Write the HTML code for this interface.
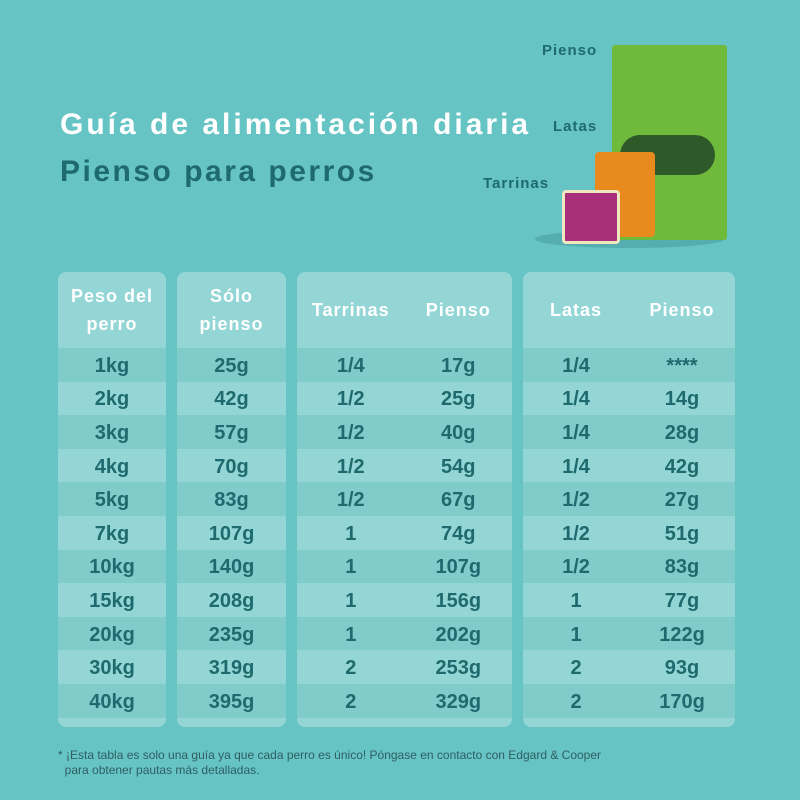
<!DOCTYPE html><html><head><style>
body{margin:0;width:800px;height:800px;background:#66c4c4;position:relative;overflow:hidden;font-family:"Liberation Sans",sans-serif}
.t{position:absolute;font-weight:bold;letter-spacing:1px}
.card{position:absolute;top:272px;height:455px;background:#93d6d5;border-radius:8px;overflow:hidden}
.hd{position:absolute;top:0;left:0;right:0;height:76px;color:#fff;font-weight:bold;font-size:18px;display:flex;align-items:center;justify-content:space-around;text-align:center;line-height:28px;letter-spacing:1px}
.row{position:absolute;left:0;right:0;height:33.6px;display:flex;align-items:center;justify-content:space-around;color:#1e6a6e;font-weight:bold;font-size:20px;padding-top:3px;box-sizing:border-box}
.row.d{background:#80cccb}
.row span{width:50%;text-align:center}
</style></head><body>
<div class="t" style="left:60px;top:108px;font-size:30px;color:#fff;letter-spacing:3px">Guía de alimentación diaria</div>
<div class="t" style="left:60px;top:155px;font-size:30px;color:#1e6a6e;letter-spacing:2.5px">Pienso para perros</div>
<div class="t" style="left:542px;top:42px;font-size:15px;color:#1e6a6e">Pienso</div>
<div class="t" style="left:553px;top:118px;font-size:15px;color:#1e6a6e">Latas</div>
<div class="t" style="left:483px;top:175px;font-size:15px;color:#1e6a6e">Tarrinas</div>
<div style="position:absolute;left:535px;top:230px;width:190px;height:18px;border-radius:50%;background:#54aeb0"></div>
<div style="position:absolute;left:612px;top:45px;width:115px;height:195px;background:#6fba3a;border-radius:3px"></div>
<div style="position:absolute;left:620px;top:135px;width:95px;height:40px;background:#2e5a2a;border-radius:20px"></div>
<div style="position:absolute;left:595px;top:152px;width:60px;height:85px;background:#e98a1f;border-radius:4px"></div>
<div style="position:absolute;left:562px;top:190px;width:52px;height:48px;background:#a8307a;border:3px solid #f0e6c0;border-radius:4px"></div>
<div id="c"></div>
<script>
const w=["1kg","2kg","3kg","4kg","5kg","7kg","10kg","15kg","20kg","30kg","40kg"];
const s=["25g","42g","57g","70g","83g","107g","140g","208g","235g","319g","395g"];
const ta=["1/4","1/2","1/2","1/2","1/2","1","1","1","1","2","2"];
const tp=["17g","25g","40g","54g","67g","74g","107g","156g","202g","253g","329g"];
const la=["1/4","1/4","1/4","1/4","1/2","1/2","1/2","1","1","2","2"];
const lp=["****","14g","28g","42g","27g","51g","83g","77g","122g","93g","170g"];
function card(x,wd,hd,cols){let h=`<div class="card" style="left:${x}px;width:${wd}px"><div class="hd">${hd}</div>`;
for(let i=0;i<11;i++){h+=`<div class="row${i%2==0?' d':''}" style="top:${76+i*33.6}px">`+cols.map(c=>cols.length==1?`<span style="width:100%">${c[i]}</span>`:`<span>${c[i]}</span>`).join('')+`</div>`}
return h+'</div>'}
document.getElementById('c').innerHTML=
card(58,108,'<div>Peso del<br>perro</div>',[w])+
card(177,109,'<div>Sólo<br>pienso</div>',[s])+
card(297,215,'<span style="width:50%">Tarrinas</span><span style="width:50%">Pienso</span>',[ta,tp])+
card(523,212,'<span style="width:50%">Latas</span><span style="width:50%">Pienso</span>',[la,lp]);
</script>
<div style="position:absolute;left:58px;top:748px;font-size:12px;color:#2f5e62;line-height:15px">* ¡Esta tabla es solo una guía ya que cada perro es único! Póngase en contacto con Edgard &amp; Cooper<br>&nbsp;&nbsp;para obtener pautas más detalladas.</div>
</body></html>
